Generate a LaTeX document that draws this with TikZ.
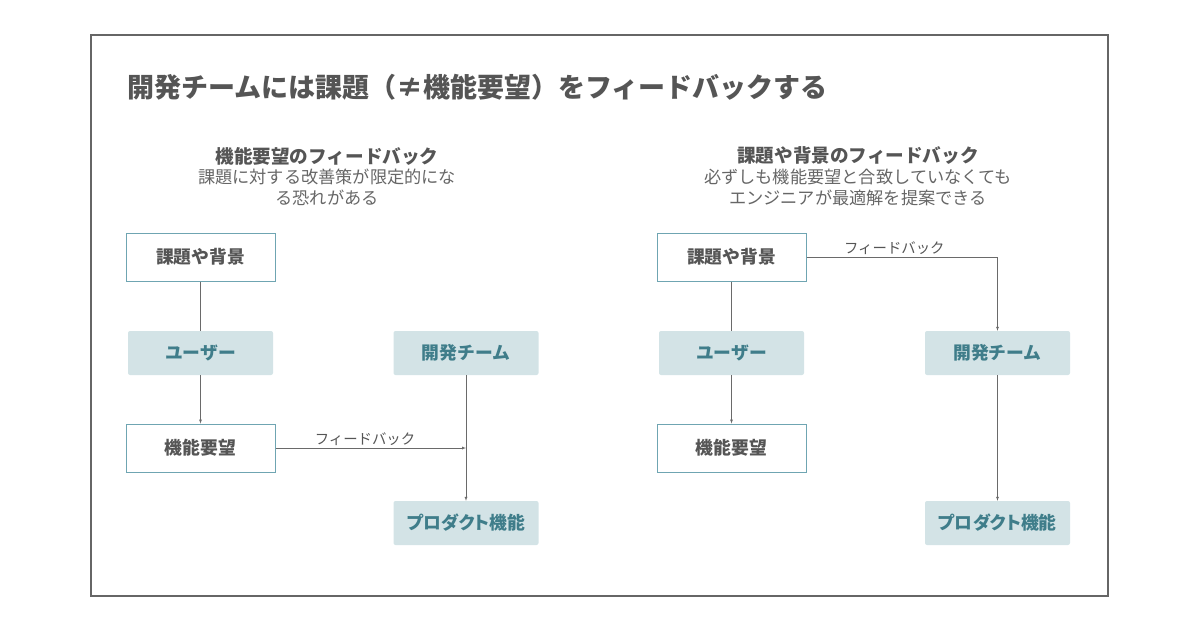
\documentclass[tikz,border=0pt]{standalone}
\usepackage{fontspec}
\setmainfont{Noto Sans CJK JP}
\usepackage{tikz}
\usetikzlibrary{positioning}

\definecolor{textgray}{HTML}{555555}
\definecolor{subgray}{HTML}{666666}
\definecolor{linegray}{HTML}{6A6A6A}
\definecolor{tealtext}{HTML}{3F7D8A}
\definecolor{tealfill}{HTML}{D3E3E6}
\definecolor{tealline}{HTML}{6FA5B2}

\tikzset{
  plainbox/.style={rectangle, draw=tealline, fill=white, line width=1pt,
    minimum width=149pt, minimum height=48pt, inner sep=0pt,
    text=textgray, font=\fontsize{17.8}{19}\selectfont\bfseries},
  rolebox/.style={rectangle, rounded corners=2pt, fill=tealfill, draw=none,
    minimum width=145pt, minimum height=44pt, inner sep=0pt,
    text=tealtext, font=\fontsize{17.8}{19}\selectfont\bfseries},
  heading/.style={align=center, text=textgray, inner sep=0pt},
  fblabel/.style={text=textgray, font=\fontsize{14.4}{16}\selectfont, inner sep=2pt}
}

\begin{document}
\begin{tikzpicture}[x=1pt, y=-1pt, >=latex]
  \useasboundingbox (0,0) rectangle (1200,630);
  \draw[line width=1.8pt, color=textgray!90] (91,35) rectangle (1108,596);

  % title
  \node (title) [anchor=west, text=textgray, inner sep=0pt,
    font=\fontsize{27}{31}\selectfont\bfseries] at (127,87)
    {開発チームには課題（≠機能要望）をフィードバックする};

  % left: feature requests
  \node (lhead) [heading, font=\fontsize{18.6}{21}\selectfont\bfseries] at (327,156) {機能要望のフィードバック};
  \node (lsub) [heading, text=subgray, font=\fontsize{17.2}{20.5}\selectfont, below=4pt of lhead]
    {課題に対する改善策が限定的にな\\る恐れがある};

  \node (haikei) [plainbox] at (200.5,257) {課題や背景};
  \node (user) [rolebox] at (200.5,353) {ユーザー};
  \node (youbou) [plainbox] at (200.5,448) {機能要望};
  \node (team) [rolebox] at (466,353) {開発チーム};
  \node (product) [rolebox] at (466,523) {\addfontfeatures{RawFeature=+palt}プロダクト機能};

  \draw[linegray] (haikei) -- (user);
  \draw[->, linegray] (user) -- (youbou);
  \draw[->, linegray] (team) -- (product);
  \draw[->, linegray] (youbou) -- (youbou -| team) node[fblabel, pos=0.47, above] {フィードバック};

  % right: problems and background
  \node (rhead) [heading, font=\fontsize{18.6}{21}\selectfont\bfseries] at (858,156) {課題や背景のフィードバック};
  \node (rsub) [heading, text=subgray, font=\fontsize{17.2}{20.5}\selectfont, below=4pt of rhead]
    {必ずしも機能要望と合致していなくても\\エンジニアが最適解を提案できる};

  \node (haikei2) [plainbox] at (731.5,257) {課題や背景};
  \node (user2) [rolebox] at (731.5,353) {ユーザー};
  \node (youbou2) [plainbox] at (731.5,448) {機能要望};
  \node (team2) [rolebox] at (997.5,353) {開発チーム};
  \node (product2) [rolebox] at (997.5,523) {\addfontfeatures{RawFeature=+palt}プロダクト機能};

  \draw[linegray] (haikei2) -- (user2);
  \draw[->, linegray] (user2) -- (youbou2);
  \draw[->, linegray] (team2) -- (product2);
  \draw[->, linegray] (haikei2) -| (team2) node[fblabel, pos=0.23, above] {フィードバック};
\end{tikzpicture}
\end{document}
